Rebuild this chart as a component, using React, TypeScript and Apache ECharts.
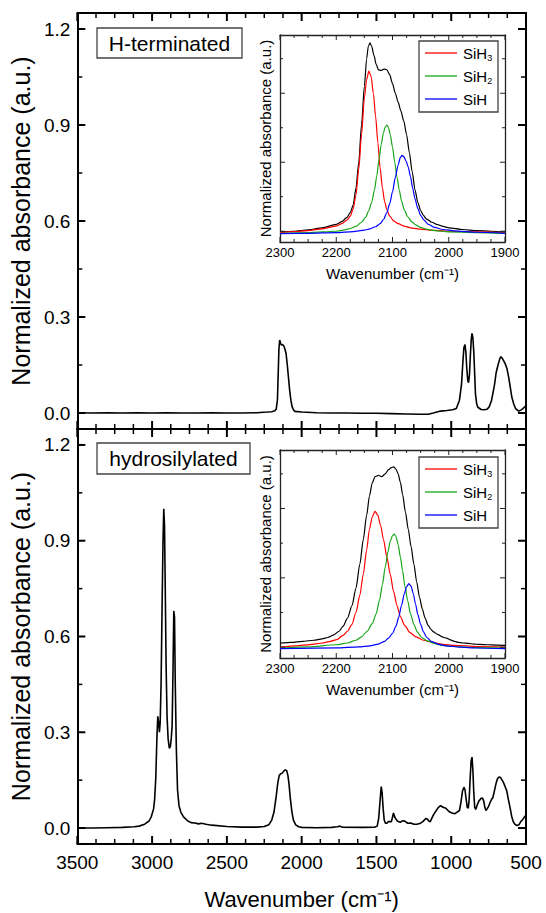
import React, { useEffect, useRef } from "react";
import * as echarts from "echarts";

const FONT = "'Liberation Sans', Arial, Helvetica, sans-serif";

// ---------- tick values ----------
const mainXMajor = [500, 1000, 1500, 2000, 2500, 3000, 3500];
const mainXMinor = [625, 750, 875, 1125, 1250, 1375, 1625, 1750, 1875, 2125, 2250, 2375,
  2625, 2750, 2875, 3125, 3250, 3375];
const mainYMajor = [0, 0.3, 0.6, 0.9, 1.2];
const mainYMinor = [0.15, 0.45, 0.75, 1.05];
const insetXMajor = [1900, 2000, 2100, 2200, 2300];
const insetXMinor = [1925, 1950, 1975, 2025, 2050, 2075, 2125, 2150, 2175, 2225, 2250, 2275];
const insetYMajor = [0, 1, 2];
const insetYMinor = [0.5, 1.5, 2.5];

// ---------- labels ----------
const panelLabels = ["H-terminated", "hydrosilylated"];
const legendNames = ["SiH3", "SiH2", "SiH"];
const xTitle = "Wavenumber (cm\u207B\u00B9)";
const yTitle = "Normalized absorbance (a.u.)";

// ---------- main spectra [wavenumber, absorbance] ----------
const hTerminated: [number, number][] = [
  [3500, 0.001], [3400, 0.0], [3300, 0.001], [3200, 0.0], [3100, 0.001], [3000, 0.0],
  [2900, 0.001], [2800, 0.0], [2700, 0.0], [2600, 0.001], [2500, 0.0], [2400, 0.0],
  [2300, 0.001], [2230, 0.003], [2200, 0.004], [2180, 0.007], [2170, 0.012], [2162, 0.04],
  [2157, 0.12], [2152, 0.2], [2147, 0.228], [2141, 0.218], [2135, 0.212], [2128, 0.214],
  [2120, 0.21], [2112, 0.2], [2104, 0.185], [2096, 0.15], [2088, 0.11], [2080, 0.07],
  [2072, 0.04], [2064, 0.02], [2055, 0.01], [2045, 0.005], [2000, 0.003], [1900, 0.001],
  [1800, 0.0], [1700, 0.0], [1600, -0.001], [1500, -0.001], [1400, -0.002], [1300, -0.003],
  [1200, -0.004], [1153, -0.004], [1120, 0.0], [1071, 0.006], [1030, 0.008], [990, 0.01],
  [966, 0.014], [945, 0.04], [931, 0.09], [922, 0.16], [915, 0.205], [908, 0.214],
  [902, 0.19], [896, 0.14], [889, 0.1], [884, 0.095], [878, 0.12], [872, 0.18],
  [866, 0.23], [861, 0.249], [855, 0.235], [849, 0.19], [843, 0.12], [838, 0.06],
  [830, 0.03], [822, 0.018], [800, 0.011], [780, 0.01], [760, 0.012], [745, 0.02],
  [730, 0.04], [718, 0.07], [710, 0.09], [700, 0.125], [687, 0.15], [675, 0.17],
  [668, 0.176], [660, 0.172], [652, 0.165], [640, 0.155], [628, 0.14], [615, 0.11],
  [605, 0.08], [595, 0.05], [582, 0.028], [570, 0.014], [555, 0.008], [547, 0.006],
  [535, 0.009], [523, 0.013], [510, 0.018], [500, 0.023],
];

const hydrosilylated: [number, number][] = [
  [3500, 0.0], [3400, 0.0], [3300, 0.001], [3200, 0.002], [3120, 0.004], [3087, 0.006],
  [3050, 0.012], [3020, 0.022], [3005, 0.036], [2990, 0.06], [2983, 0.09], [2975, 0.16],
  [2968, 0.28], [2962, 0.35], [2956, 0.33], [2951, 0.3], [2946, 0.33], [2940, 0.45],
  [2933, 0.7], [2927, 0.9], [2922, 1.0], [2917, 0.95], [2912, 0.75], [2906, 0.5],
  [2900, 0.35], [2893, 0.28], [2885, 0.25], [2878, 0.255], [2872, 0.28], [2866, 0.32],
  [2860, 0.5], [2855, 0.68], [2850, 0.66], [2845, 0.45], [2838, 0.25], [2830, 0.12],
  [2820, 0.07], [2808, 0.05], [2790, 0.035], [2761, 0.022], [2740, 0.017], [2714, 0.016],
  [2690, 0.013], [2668, 0.015], [2640, 0.012], [2600, 0.009], [2500, 0.005], [2400, 0.003],
  [2300, 0.003], [2250, 0.005], [2220, 0.01], [2200, 0.025], [2185, 0.05], [2170, 0.1],
  [2160, 0.14], [2150, 0.165], [2140, 0.17], [2130, 0.172], [2120, 0.178], [2110, 0.182],
  [2100, 0.18], [2092, 0.165], [2085, 0.14], [2075, 0.09], [2065, 0.05], [2055, 0.025],
  [2040, 0.01], [2020, 0.004], [2000, 0.002], [1900, 0.001], [1800, 0.002], [1760, 0.004],
  [1745, 0.006], [1730, 0.003], [1600, 0.002], [1510, 0.003], [1495, 0.006], [1485, 0.03],
  [1475, 0.09], [1468, 0.13], [1462, 0.11], [1455, 0.06], [1448, 0.025], [1440, 0.015],
  [1430, 0.015], [1420, 0.02], [1410, 0.02], [1400, 0.02], [1392, 0.035], [1386, 0.047],
  [1378, 0.035], [1370, 0.028], [1360, 0.022], [1350, 0.02], [1340, 0.018], [1330, 0.022],
  [1316, 0.023], [1300, 0.018], [1290, 0.015], [1270, 0.016], [1250, 0.012], [1230, 0.012],
  [1210, 0.014], [1190, 0.02], [1170, 0.03], [1160, 0.028], [1150, 0.022], [1140, 0.02],
  [1130, 0.03], [1118, 0.042], [1100, 0.055], [1085, 0.065], [1071, 0.07], [1055, 0.065],
  [1036, 0.062], [1015, 0.052], [995, 0.047], [975, 0.045], [960, 0.05], [945, 0.055],
  [935, 0.08], [925, 0.115], [915, 0.128], [908, 0.12], [900, 0.09], [893, 0.065],
  [886, 0.062], [880, 0.09], [874, 0.15], [867, 0.21], [861, 0.222], [855, 0.18],
  [849, 0.11], [843, 0.065], [836, 0.058], [828, 0.07], [815, 0.085], [800, 0.093],
  [791, 0.094], [783, 0.085], [775, 0.065], [768, 0.055], [760, 0.06], [750, 0.068],
  [740, 0.08], [730, 0.09], [722, 0.095], [712, 0.115], [700, 0.14], [690, 0.155],
  [680, 0.16], [670, 0.158], [660, 0.15], [650, 0.142], [640, 0.13], [628, 0.115],
  [618, 0.09], [605, 0.06], [595, 0.035], [585, 0.02], [575, 0.012], [560, 0.008],
  [547, 0.01], [535, 0.02], [523, 0.026], [510, 0.035], [500, 0.04],
];

// ---------- inset (H-terminated) ----------
const topMeasured: [number, number][] = [
  [2300, -0.01], [2275, 0.0], [2250, 0.02], [2225, 0.05], [2200, 0.1], [2190, 0.14],
  [2181, 0.2], [2175, 0.27], [2170, 0.38], [2165, 0.62], [2160, 1.0], [2155, 1.55],
  [2150, 2.1], [2146, 2.5], [2143, 2.68], [2140, 2.73], [2137, 2.68], [2133, 2.55],
  [2129, 2.42], [2125, 2.34], [2120, 2.33], [2115, 2.35], [2110, 2.34], [2105, 2.27],
  [2100, 2.14], [2095, 2.0], [2090, 1.87], [2085, 1.74], [2080, 1.6], [2075, 1.4],
  [2070, 1.14], [2065, 0.86], [2060, 0.6], [2055, 0.42], [2050, 0.3], [2045, 0.23],
  [2040, 0.18], [2030, 0.13], [2020, 0.095], [2010, 0.07], [2000, 0.05], [1975, 0.025],
  [1950, 0.01], [1925, 0.0], [1900, -0.01],
];
const topSiH3: [number, number][] = [
  [2300, -0.02], [2275, -0.005], [2250, 0.01], [2225, 0.035], [2200, 0.075], [2190, 0.11],
  [2181, 0.16], [2175, 0.22], [2170, 0.32], [2165, 0.52], [2160, 0.9], [2155, 1.4],
  [2150, 1.93], [2146, 2.2], [2142, 2.32], [2138, 2.24], [2134, 2.0], [2130, 1.66],
  [2126, 1.28], [2122, 0.92], [2118, 0.63], [2114, 0.43], [2110, 0.31], [2105, 0.22],
  [2098, 0.15], [2090, 0.11], [2080, 0.075], [2065, 0.045], [2050, 0.03], [2030, 0.015],
  [2000, 0.0], [1950, -0.01], [1900, -0.02],
];
const topSiH2: [number, number][] = [
  [2300, -0.03], [2250, -0.02], [2200, 0.0], [2185, 0.02], [2175, 0.04], [2165, 0.07],
  [2155, 0.13], [2148, 0.2], [2142, 0.3], [2137, 0.42], [2132, 0.6], [2128, 0.8],
  [2124, 1.04], [2120, 1.26], [2116, 1.43], [2113, 1.51], [2110, 1.54], [2107, 1.5],
  [2104, 1.4], [2100, 1.22], [2096, 1.0], [2092, 0.78], [2088, 0.6], [2084, 0.44],
  [2079, 0.31], [2073, 0.21], [2066, 0.14], [2058, 0.09], [2050, 0.055], [2040, 0.03],
  [2025, 0.01], [2000, -0.01], [1950, -0.02], [1900, -0.03],
];
const topSiH: [number, number][] = [
  [2300, -0.034], [2250, -0.03], [2200, -0.02], [2170, -0.005], [2150, 0.015], [2140, 0.035],
  [2130, 0.065], [2122, 0.11], [2116, 0.17], [2110, 0.27], [2105, 0.4], [2100, 0.57],
  [2095, 0.78], [2090, 0.96], [2086, 1.07], [2083, 1.1], [2080, 1.08], [2076, 1.02],
  [2072, 0.93], [2068, 0.79], [2064, 0.62], [2060, 0.47], [2055, 0.33], [2050, 0.23],
  [2044, 0.16], [2036, 0.1], [2025, 0.055], [2010, 0.025], [1990, 0.005], [1950, -0.015],
  [1900, -0.03],
];

// ---------- inset (hydrosilylated) ----------
const botMeasured: [number, number][] = [
  [2300, 0.06], [2280, 0.07], [2260, 0.085], [2240, 0.1], [2225, 0.12], [2215, 0.14],
  [2205, 0.175], [2195, 0.23], [2188, 0.3], [2180, 0.42], [2172, 0.6], [2165, 0.85],
  [2158, 1.2], [2152, 1.55], [2146, 1.9], [2141, 2.18], [2136, 2.37], [2131, 2.46],
  [2125, 2.48], [2119, 2.46], [2113, 2.5], [2107, 2.56], [2102, 2.59], [2098, 2.6],
  [2094, 2.57], [2090, 2.5], [2086, 2.38], [2082, 2.2], [2077, 1.95], [2072, 1.7],
  [2067, 1.45], [2062, 1.2], [2057, 0.94], [2052, 0.72], [2047, 0.55], [2042, 0.42],
  [2037, 0.32], [2032, 0.26], [2027, 0.22], [2020, 0.185], [2012, 0.15], [2004, 0.13],
  [1997, 0.105], [1990, 0.085], [1983, 0.07], [1975, 0.06], [1965, 0.055], [1955, 0.045],
  [1945, 0.04], [1930, 0.035], [1915, 0.03], [1900, 0.027],
];
const botSiH3: [number, number][] = [
  [2300, 0.003], [2270, 0.02], [2247, 0.037], [2225, 0.06], [2210, 0.085], [2199, 0.11],
  [2188, 0.17], [2180, 0.23], [2172, 0.33], [2165, 0.5], [2158, 0.75], [2152, 1.05],
  [2146, 1.4], [2141, 1.7], [2136, 1.88], [2131, 1.96], [2126, 1.9], [2121, 1.75],
  [2116, 1.55], [2110, 1.3], [2104, 1.05], [2098, 0.8], [2092, 0.6], [2086, 0.44],
  [2078, 0.31], [2069, 0.21], [2058, 0.15], [2045, 0.1], [2030, 0.07], [2010, 0.04],
  [1990, 0.025], [1950, 0.01], [1900, 0.003],
];
const botSiH2: [number, number][] = [
  [2300, -0.012], [2250, 0.005], [2200, 0.035], [2180, 0.06], [2165, 0.1], [2155, 0.15],
  [2145, 0.23], [2136, 0.34], [2129, 0.48], [2123, 0.68], [2118, 0.9], [2113, 1.15],
  [2108, 1.38], [2104, 1.53], [2100, 1.61], [2097, 1.63], [2094, 1.6], [2090, 1.48],
  [2086, 1.3], [2082, 1.1], [2078, 0.88], [2073, 0.67], [2068, 0.48], [2062, 0.33],
  [2056, 0.22], [2048, 0.14], [2038, 0.09], [2025, 0.05], [2010, 0.025], [1990, 0.01],
  [1950, -0.005], [1900, -0.012],
];
const botSiH: [number, number][] = [
  [2300, -0.021], [2200, -0.01], [2160, 0.005], [2140, 0.02], [2125, 0.045], [2115, 0.08],
  [2107, 0.13], [2100, 0.2], [2094, 0.3], [2089, 0.43], [2084, 0.6], [2079, 0.77],
  [2075, 0.87], [2071, 0.916], [2067, 0.88], [2063, 0.77], [2059, 0.62], [2055, 0.47],
  [2050, 0.33], [2045, 0.22], [2039, 0.14], [2030, 0.08], [2020, 0.045], [2005, 0.02],
  [1980, 0.0], [1950, -0.012], [1900, -0.021],
];

const COLORS: Record<string, string> = { SiH3: "#ff0000", SiH2: "#19a619", SiH: "#0000ff", measured: "#000000" };

const legendRich = {
  n: { fontSize: 15, lineHeight: 22, fontFamily: FONT, color: "#000" },
  s: { fontSize: 9, lineHeight: 13, padding: [9, 0, 0, 0], fontFamily: FONT, color: "#000" },
};

function mainX(grid: number, position: string, labels: boolean) {
  return {
    type: "value", gridIndex: grid, position, min: 500, max: 3500, interval: 500, inverse: true,
    axisLine: { show: true, onZero: false, lineStyle: { color: "#000", width: 2 } },
    axisTick: { show: false },
    splitLine: { show: false },
    axisLabel: {
      show: labels, customValues: mainXMajor, fontSize: 19, fontFamily: FONT, color: "#000", margin: 9,
      formatter: (v: number) => String(v),
    },
    name: labels ? xTitle : "", nameLocation: "middle", nameGap: 44,
    nameTextStyle: { fontSize: 22, fontFamily: FONT, color: "#000" },
  };
}
function mainY(grid: number, position: string, labels: boolean) {
  return {
    type: "value", gridIndex: grid, position, min: -0.05, max: 1.25, splitNumber: 4,
    axisLine: { show: true, onZero: false, lineStyle: { color: "#000", width: 2 } },
    axisTick: { show: false },
    splitLine: { show: false },
    axisLabel: {
      show: labels, customValues: mainYMajor,
      formatter: (v: number) => v.toFixed(1), fontSize: 19, fontFamily: FONT, color: "#000", margin: 7,
    },
    name: labels ? yTitle : "", nameLocation: "middle", nameGap: 41,
    nameTextStyle: { fontSize: 25, fontFamily: FONT, color: "#000" },
  };
}
function insetX(grid: number, position: string, labels: boolean) {
  return {
    type: "value", gridIndex: grid, position, min: 1900, max: 2300, interval: 100, inverse: true,
    axisLine: { show: true, onZero: false, lineStyle: { color: "#222", width: 1.3 } },
    axisTick: { show: false },
    splitLine: { show: false },
    axisLabel: {
      show: labels, customValues: insetXMajor, fontSize: 13, fontFamily: FONT, color: "#000", margin: 4,
      formatter: (v: number) => String(v),
    },
    name: labels ? xTitle : "", nameLocation: "middle", nameGap: 24,
    nameTextStyle: { fontSize: 15, fontFamily: FONT, color: "#000" },
  };
}
function insetY(grid: number, position: string, labels: boolean) {
  return {
    type: "value", gridIndex: grid, position, min: -0.156, max: 2.844, splitNumber: 3,
    axisLine: { show: true, onZero: false, lineStyle: { color: "#222", width: 1.3 } },
    axisTick: { show: false },
    splitLine: { show: false },
    axisLabel: { show: false },
    name: labels ? yTitle : "", nameLocation: "middle", nameGap: 7,
    nameTextStyle: { fontSize: 15, fontFamily: FONT, color: "#000" },
  };
}

// Frame ticks, placed through the axes' own scales (api.coord)
function tickSeries(xi: number, yi: number, anchor: [number, number],
  xMaj: number[], xMin: number[], yMaj: number[], yMin: number[],
  majLen: number, minLen: number, majW: number, minW: number, color: string) {
  return {
    type: "custom", xAxisIndex: xi, yAxisIndex: yi, silent: true, z: 6, clip: false,
    data: [anchor],
    renderItem: (params: any, api: any) => {
      const cs = params.coordSys;
      const left = cs.x, right = cs.x + cs.width, top = cs.y, bottom = cs.y + cs.height;
      const children: any[] = [];
      const add = (x1: number, y1: number, x2: number, y2: number, w: number) =>
        children.push({ type: "line", shape: { x1, y1, x2, y2 }, style: { stroke: color, lineWidth: w } });
      const xs = (vals: number[], len: number, w: number) => vals.forEach((v) => {
        const px = api.coord([v, anchor[1]])[0];
        add(px, bottom, px, bottom - len, w);
        add(px, top, px, top + len, w);
      });
      const ys = (vals: number[], len: number, w: number) => vals.forEach((v) => {
        const py = api.coord([anchor[0], v])[1];
        add(left, py, left + len, py, w);
        add(right, py, right - len, py, w);
      });
      xs(xMaj, majLen, majW); xs(xMin, minLen, minW);
      ys(yMaj, majLen, majW); ys(yMin, minLen, minW);
      return { type: "group", children };
    },
  };
}

function line(name: string, data: [number, number][], xi: number, yi: number, color: string, width: number, smooth: boolean) {
  return {
    type: "line", name, data, xAxisIndex: xi, yAxisIndex: yi, showSymbol: false, symbol: "none",
    smooth: smooth ? 0.25 : false, smoothMonotone: "x",
    lineStyle: { color, width }, itemStyle: { color },
  };
}

function legendBox(top: number) {
  const children: any[] = [
    { type: "rect", shape: { x: 419, y: top, width: 79, height: 71 }, style: { fill: "#fff", stroke: "#444", lineWidth: 1.3 } },
  ];
  legendNames.forEach((name, i) => {
    const cy = top + 12 + i * 23;
    const m = name.match(/^(SiH)(\d?)$/);
    const txt = m && m[2] ? `{n|${m[1]}}{s|${m[2]}}` : `{n|${name}}`;
    children.push({
      type: "line", shape: { x1: 425, y1: cy, x2: 457, y2: cy },
      style: { stroke: COLORS[name], lineWidth: 1.3 },
    });
    children.push({
      type: "text", x: 463, y: cy,
      style: { text: txt, rich: legendRich, fontSize: 15, fontFamily: FONT, fill: "#000", align: "left", verticalAlign: "middle" },
    });
  });
  return { type: "group", children };
}

function labelBox(x: number, y: number, w: number, h: number, text: string) {
  return {
    type: "group",
    children: [
      { type: "rect", shape: { x, y, width: w, height: h }, style: { fill: "#fff", stroke: "#444", lineWidth: 1.3 } },
      {
        type: "text", x: x + w / 2, y: y + h / 2,
        style: { text, fontSize: 21, fontFamily: FONT, fill: "#000", align: "center", verticalAlign: "middle" },
      },
    ],
  };
}

export default function App() {
  const ref = useRef<HTMLDivElement>(null);
  useEffect(() => {
    document.body.style.margin = "0";
    if (!ref.current) return;
    const chart = echarts.init(ref.current, undefined, { renderer: "svg" });
    const xAxes: any[] = [];
    const yAxes: any[] = [];
    [0, 1].forEach((g) => {
      xAxes.push(mainX(g, "bottom", g === 1), mainX(g, "top", false));
      yAxes.push(mainY(g, "left", true), mainY(g, "right", false));
    });
    [2, 3].forEach((g) => {
      xAxes.push(insetX(g, "bottom", true), insetX(g, "top", false));
      yAxes.push(insetY(g, "left", true), insetY(g, "right", false));
    });
    // axis indices: grid g -> x 2g (bottom), y 2g (left)
    const option = {
      animation: false,
      grid: [
        { left: 77, top: 13, width: 449, height: 416 },
        { left: 77, top: 429, width: 449, height: 415 },
        { left: 280, top: 35, width: 225, height: 207 },
        { left: 280, top: 450, width: 225, height: 208 },
      ],
      xAxis: xAxes,
      yAxis: yAxes,
      series: [
        line(panelLabels[0], hTerminated, 0, 0, "#000", 1.6, false),
        line(panelLabels[1], hydrosilylated, 2, 2, "#000", 1.6, false),
        line("measured", topMeasured, 4, 4, COLORS.measured, 1.2, true),
        line("SiH3", topSiH3, 4, 4, COLORS.SiH3, 1.2, true),
        line("SiH2", topSiH2, 4, 4, COLORS.SiH2, 1.2, true),
        line("SiH", topSiH, 4, 4, COLORS.SiH, 1.2, true),
        line("measured", botMeasured, 6, 6, COLORS.measured, 1.2, true),
        line("SiH3", botSiH3, 6, 6, COLORS.SiH3, 1.2, true),
        line("SiH2", botSiH2, 6, 6, COLORS.SiH2, 1.2, true),
        line("SiH", botSiH, 6, 6, COLORS.SiH, 1.2, true),
        tickSeries(0, 0, [2000, 0.6], mainXMajor, mainXMinor, mainYMajor, mainYMinor, 8, 5, 2, 1.5, "#000"),
        tickSeries(2, 2, [2000, 0.6], mainXMajor, mainXMinor, mainYMajor, mainYMinor, 8, 5, 2, 1.5, "#000"),
        tickSeries(4, 4, [2100, 1], insetXMajor, insetXMinor, insetYMajor, insetYMinor, 5, 3, 1, 1, "#222"),
        tickSeries(6, 6, [2100, 1], insetXMajor, insetXMinor, insetYMajor, insetYMinor, 5, 3, 1, 1, "#222"),
      ],
      graphic: [
        labelBox(97, 28, 145, 30, panelLabels[0]),
        labelBox(97, 443, 153, 31, panelLabels[1]),
        legendBox(41),
        legendBox(457),
      ],
    };
    chart.setOption(option as any);
    return () => chart.dispose();
  }, []);
  return <div ref={ref} style={{ width: 546, height: 913 }} />;
}
